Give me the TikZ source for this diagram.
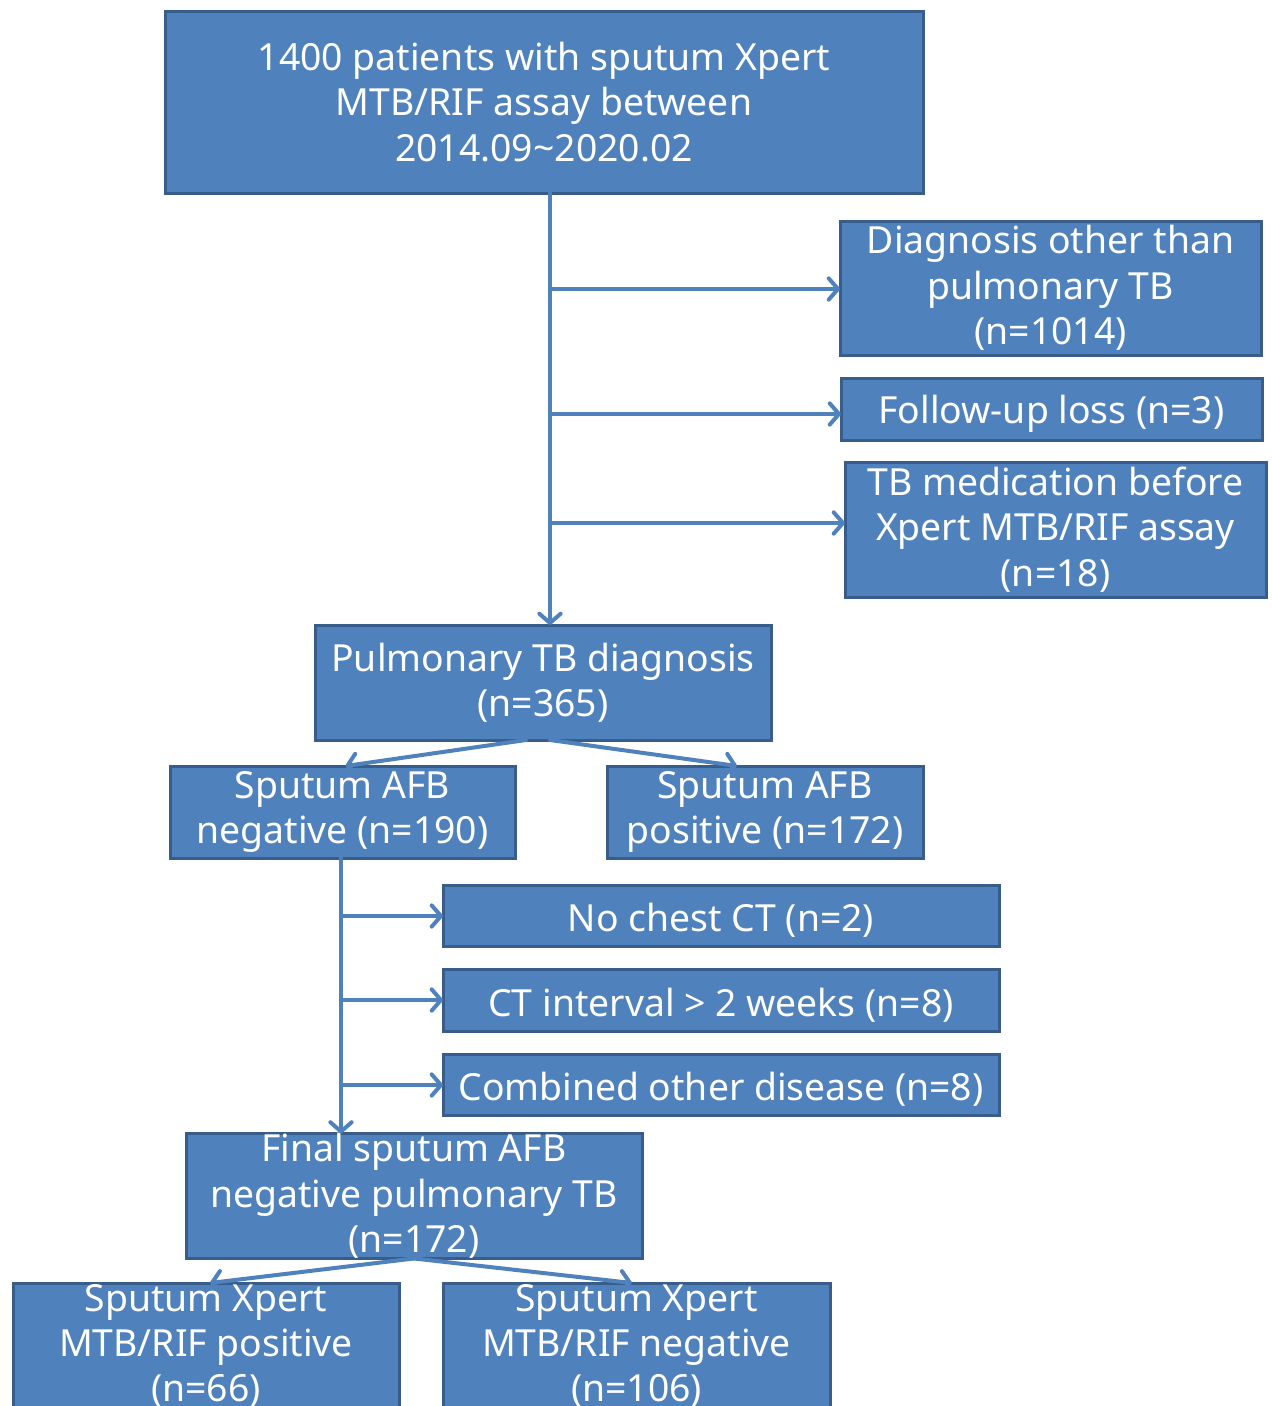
\documentclass[tikz,border=0pt]{standalone}
\usepackage{fontspec}
\setmainfont{Noto Sans}
\usetikzlibrary{arrows.meta}
\definecolor{boxfill}{HTML}{4F81BD}
\definecolor{boxline}{HTML}{385D8A}
\tikzset{
  flowbox/.style={draw=boxline, fill=boxfill, line width=2.25pt, text=white, align=center,
    inner sep=0pt, outer sep=0pt, font=\fontsize{28}{34}\selectfont,
    execute at begin node={\rule{0pt}{29pt}}},
  arr/.style={draw=boxfill, line width=3pt, line cap=round,
    -{Straight Barb[length=7pt,width=16pt,round]}}
}
\begin{document}
\begin{tikzpicture}[x=0.75pt,y=0.75pt,yscale=-1,xscale=1]
\useasboundingbox (0,0) rectangle (1271,1406);

%Shape: Rectangle [id:top]
\node (top) at (544,102) [flowbox, minimum width=758*0.75pt, minimum height=182*0.75pt] {1400 patients with sputum Xpert\\MTB/RIF assay between\\2014.09\textasciitilde2020.02};
%Shape: Rectangle [id:diag]
\node (diag) at (1050.5,288) [flowbox, minimum width=421*0.75pt, minimum height=134*0.75pt] {Diagnosis other than\\pulmonary TB\\(n=1014)};
%Shape: Rectangle [id:loss]
\node (loss) at (1051.5,409) [flowbox, minimum width=421*0.75pt, minimum height=62*0.75pt] {Follow-up loss (n=3)};
%Shape: Rectangle [id:med]
\node (med) at (1055.5,529.5) [flowbox, minimum width=421*0.75pt, minimum height=135*0.75pt] {TB medication before\\Xpert MTB/RIF assay\\(n=18)};
%Shape: Rectangle [id:pulm]
\node (pulm) at (543,682.5) [flowbox, minimum width=456*0.75pt, minimum height=115*0.75pt] {Pulmonary TB diagnosis\\(n=365)};
%Shape: Rectangle [id:afbneg]
\node (afbneg) at (342.5,812) [flowbox, minimum width=345*0.75pt, minimum height=92*0.75pt] {Sputum AFB\\negative (n=190)};
%Shape: Rectangle [id:afbpos]
\node (afbpos) at (765,812) [flowbox, minimum width=316*0.75pt, minimum height=92*0.75pt] {Sputum AFB\\positive (n=172)};
%Shape: Rectangle [id:noct]
\node (noct) at (721,915.5) [flowbox, minimum width=556*0.75pt, minimum height=61*0.75pt] {No chest CT (n=2)};
%Shape: Rectangle [id:ctint]
\node (ctint) at (721,1000) [flowbox, minimum width=556*0.75pt, minimum height=62*0.75pt] {CT interval > 2 weeks (n=8)};
%Shape: Rectangle [id:comb]
\node (comb) at (721,1084.5) [flowbox, minimum width=556*0.75pt, minimum height=61*0.75pt] {Combined other disease (n=8)};
%Shape: Rectangle [id:final]
\node (final) at (414,1196) [flowbox, minimum width=456*0.75pt, minimum height=116*0.75pt] {Final sputum AFB\\negative pulmonary TB\\(n=172)};
%Shape: Rectangle [id:xpos]
\node (xpos) at (206,1346) [flowbox, minimum width=386*0.75pt, minimum height=126*0.75pt] {Sputum Xpert\\MTB/RIF positive\\(n=66)};
%Shape: Rectangle [id:xneg]
\node (xneg) at (636.5,1346) [flowbox, minimum width=387*0.75pt, minimum height=126*0.75pt] {Sputum Xpert\\MTB/RIF negative\\(n=106)};

%Straight Lines [id:trunk]
\coordinate (b1) at (550,289);
\coordinate (b2) at (550,414);
\coordinate (b3) at (550,523);
\draw[arr] (top.south -| b1) -- (pulm.north -| b1);
\draw[arr] (b1) -- (b1 -| diag.west);
\draw[arr] (b2) -- (b2 -| loss.west);
\draw[arr] (b3) -- (b3 -| med.west);

%Straight Lines [id:split]
\draw[arr] (pulm.south) ++(-17,0) -- ([xshift=2.25pt]afbneg.north);
\draw[arr] (pulm.south) ++(7,0) -- ([xshift=-21pt]afbpos.north);

%Straight Lines [id:trunk2]
\coordinate (c1) at (341,916);
\coordinate (c2) at (341,1000);
\coordinate (c3) at (341,1085);
\draw[arr] (afbneg.south -| c1) -- (final.north -| c1);
\draw[arr] (c1) -- (c1 -| noct.west);
\draw[arr] (c2) -- (c2 -| ctint.west);
\draw[arr] (c3) -- (c3 -| comb.west);

%Straight Lines [id:split2]
\draw[arr] (final.south) -- ([xshift=3pt]xpos.north);
\draw[arr] (final.south) -- ([xshift=-3.4pt]xneg.north);

\end{tikzpicture}
\end{document}
